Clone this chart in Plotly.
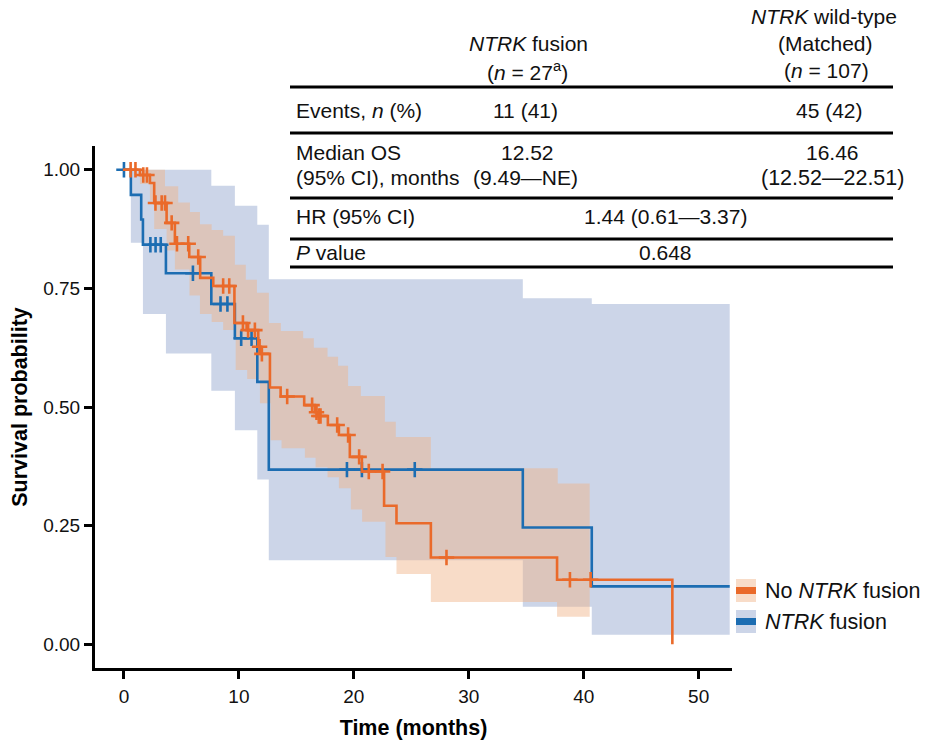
import numpy as np
import plotly.graph_objects as go

# ---------------- data ----------------
# NTRK fusion (blue)
fus_t = [0, 0.6, 1.5, 1.65, 3.65, 7.6, 9.65, 11.6, 12.6, 34.7, 40.7]
fus_s = [1.0, 0.947, 0.895, 0.842, 0.782, 0.717, 0.645, 0.553, 0.368, 0.246, 0.122]
fus_lo = [1.0, 0.846, 0.846, 0.696, 0.613, 0.534, 0.451, 0.347, 0.177, 0.079, 0.020]
fus_hi = [1.0, 1.0, 1.0, 1.0, 1.0, 0.966, 0.924, 0.884, 0.769, 0.729, 0.717]
fus_end = 52.7
fus_cens = [0.0, 2.3, 2.75, 3.2, 6.0, 8.4, 9.0, 10.2, 11.1, 19.4, 20.7, 25.3]

# No NTRK fusion (orange)
no_t = [0, 1.39, 2.26, 2.63, 3.71, 4.43, 5.68, 6.63, 7.77, 9.61, 10.67, 11.68, 11.91,
        12.70, 13.63, 15.68, 16.61, 16.87, 17.74, 18.70, 19.65, 20.70, 22.63, 23.71,
        26.70, 37.68, 47.71]
no_s = [1.0, 0.989, 0.972, 0.930, 0.888, 0.844, 0.816, 0.772, 0.755, 0.677, 0.662, 0.627,
        0.612, 0.541, 0.522, 0.504, 0.489, 0.481, 0.462, 0.441, 0.395, 0.364, 0.292,
        0.255, 0.183, 0.136, 0.0]
no_cens = [0.58, 1.0, 1.68, 2.0, 2.74, 3.28, 3.57, 4.15, 4.61, 5.59, 6.46, 8.63, 9.16,
           10.35, 10.8, 11.39, 11.8, 12.0, 14.2, 16.37, 16.75, 16.95, 17.1, 18.55, 19.5,
           20.46, 21.3, 22.5, 28.06, 38.8, 40.6]
no_hi_t = [0, 3.57, 4.72, 5.74, 6.61, 7.63, 8.63, 9.65, 10.6, 11.57, 12.61, 13.65, 15.59,
           16.52, 17.71, 18.63, 19.5, 20.61, 22.7, 23.65, 26.7, 37.74]
no_hi = [1.0, 0.965, 0.931, 0.911, 0.885, 0.873, 0.861, 0.800, 0.768, 0.741, 0.677, 0.660,
         0.645, 0.625, 0.606, 0.587, 0.544, 0.523, 0.469, 0.437, 0.371, 0.339]
no_lo_t = [0, 1.39, 2.26, 2.63, 3.71, 4.43, 5.70, 6.61, 7.63, 8.63, 9.72, 10.72, 11.83,
           12.76, 13.71, 15.74, 16.67, 17.71, 18.70, 19.74, 20.72, 22.75, 23.71, 26.70, 37.68]
no_lo = [1.0, 0.97, 0.935, 0.875, 0.83, 0.79, 0.735, 0.696, 0.679, 0.662, 0.578, 0.559,
         0.508, 0.430, 0.413, 0.393, 0.373, 0.352, 0.329, 0.284, 0.258, 0.184, 0.148,
         0.089, 0.058]
no_band_end = 40.52

x_ticks = [0, 10, 20, 30, 40, 50]
y_ticks = [0, 0.25, 0.5, 0.75, 1.0]
y_tick_labels = ["0.00", "0.25", "0.50", "0.75", "1.00"]

legend_labels = ["No <i>NTRK</i> fusion", "<i>NTRK</i> fusion"]

table_col1_head = ["<i>NTRK</i> fusion", "(<i>n</i> = 27<sup>a</sup>)"]
table_col2_head = ["<i>NTRK</i> wild-type", "(Matched)", "(<i>n</i> = 107)"]
table_row_labels = ["Events, <i>n</i> (%)", "Median OS", "(95% CI), months",
                    "HR (95% CI)", "<i>P</i> value"]
table_col1_vals = ["11 (41)", "12.52", "(9.49\u2014NE)"]
table_col2_vals = ["45 (42)", "16.46", "(12.52\u201422.51)"]
table_shared_vals = ["1.44 (0.61\u20143.37)", "0.648"]

# ---------------- styling ----------------
ORANGE = "#EA6A2A"
BLUE = "#1C6DB2"
BLUE_BAND = "#CCD5E8"
ORANGE_BAND = "rgba(239,177,133,0.45)"
FONT = "Liberation Sans, Arial, sans-serif"
TXT = 21

W, H = 932, 740
ML, MR, MT, MB = 95, 200, 146, 72
PW, PH = W - ML - MR, H - MT - MB


def px(xp):
    return (xp - ML) / PW


def py(yp):
    return (H - MB - yp) / PH


def step_xy(t, v, end):
    xs, ys = [], []
    for i in range(len(t)):
        x1 = t[i + 1] if i + 1 < len(t) else end
        xs += [t[i], x1]
        ys += [v[i], v[i]]
    return xs, ys


def band_polygon(t_hi, hi, t_lo, lo, end):
    xu, yu = step_xy(t_hi, hi, end)
    xl, yl = step_xy(t_lo, lo, end)
    return xu + xl[::-1], yu + yl[::-1]


def surv_at(t, s, x):
    idx = np.searchsorted(np.array(t), np.array(x), side="right") - 1
    return list(np.array(s)[idx])


fig = go.Figure()

# bands
bx, by = band_polygon(fus_t, fus_hi, fus_t, fus_lo, fus_end)
fig.add_trace(go.Scatter(x=bx, y=by, fill="toself", fillcolor=BLUE_BAND,
                         line=dict(width=0), mode="lines", hoverinfo="skip",
                         showlegend=False))
ox, oy = band_polygon(no_hi_t, no_hi, no_lo_t, no_lo, no_band_end)
fig.add_trace(go.Scatter(x=ox, y=oy, fill="toself", fillcolor=ORANGE_BAND,
                         line=dict(width=0), mode="lines", hoverinfo="skip",
                         showlegend=False))

# blue curve
fig.add_trace(go.Scatter(x=fus_t + [fus_end], y=fus_s + [fus_s[-1]], mode="lines",
                         line=dict(color=BLUE, width=2.6, shape="hv"),
                         showlegend=False))
fig.add_trace(go.Scatter(x=fus_cens, y=surv_at(fus_t, fus_s, fus_cens), mode="markers",
                         marker=dict(symbol="cross-thin", size=11, color=BLUE,
                                     line=dict(color=BLUE, width=2.6)),
                         showlegend=False))
# orange curve
fig.add_trace(go.Scatter(x=no_t, y=no_s, mode="lines",
                         line=dict(color=ORANGE, width=2.6, shape="hv"),
                         showlegend=False))
fig.add_trace(go.Scatter(x=no_cens, y=surv_at(no_t, no_s, no_cens), mode="markers",
                         marker=dict(symbol="cross-thin", size=11, color=ORANGE,
                                     line=dict(color=ORANGE, width=2.6)),
                         showlegend=False))

shapes = []
annotations = []

# table rules
for yy in [87, 133, 198, 239, 267]:
    shapes.append(dict(type="line", xref="paper", yref="paper", x0=px(290), x1=px(893),
                       y0=py(yy), y1=py(yy), line=dict(color="black", width=3)))


def txt(s, xp, yp, anchor="center", size=TXT):
    annotations.append(dict(text=s, xref="paper", yref="paper", x=px(xp), y=py(yp),
                            xanchor=anchor, yanchor="middle", showarrow=False,
                            font=dict(family=FONT, size=size, color="#111111")))


txt(table_col1_head[0], 528, 44)
txt(table_col1_head[1], 527, 71)
txt(table_col2_head[0], 824, 17)
txt(table_col2_head[1], 825, 44)
txt(table_col2_head[2], 826, 71)
txt(table_row_labels[0], 294, 110, "left")
txt(table_row_labels[1], 294, 152, "left")
txt(table_row_labels[2], 294, 178, "left")
txt(table_row_labels[3], 294, 216, "left")
txt(table_row_labels[4], 294, 252, "left")
txt(table_col1_vals[0], 525, 110)
txt(table_col1_vals[1], 527, 152)
txt(table_col1_vals[2], 525, 178)
txt(table_col2_vals[0], 830, 110)
txt(table_col2_vals[1], 832, 152)
txt(table_col2_vals[2], 832, 178, size=21.5)
txt(table_shared_vals[0], 665, 216)
txt(table_shared_vals[1], 665, 252)

# legend (custom keys)
for (yc, fillc, linec, lab) in [(590.5, ORANGE_BAND, ORANGE, legend_labels[0]),
                                (621.5, BLUE_BAND, BLUE, legend_labels[1])]:
    shapes.append(dict(type="rect", xref="paper", yref="paper", x0=px(736), x1=px(756),
                       y0=py(yc - 11.5), y1=py(yc + 11.5), fillcolor=fillc,
                       line=dict(width=0)))
    shapes.append(dict(type="rect", xref="paper", yref="paper", x0=px(736), x1=px(756),
                       y0=py(yc - 3.5), y1=py(yc + 3.5), fillcolor=linec,
                       line=dict(width=0)))
    txt(lab, 763, yc, "left", 21.5)

fig.update_layout(
    width=W, height=H,
    margin=dict(l=ML, r=MR, t=MT, b=MB, autoexpand=False),
    paper_bgcolor="white", plot_bgcolor="white",
    shapes=shapes, annotations=annotations,
    font=dict(family=FONT, color="#111111"),
    xaxis=dict(range=[-2.52, 52.9], tickvals=x_ticks, showgrid=False, zeroline=False,
               showline=True, linecolor="black", linewidth=3, ticks="outside",
               ticklen=8, tickwidth=2.5, tickcolor="black", automargin=False,
               ticklabelstandoff=1,
               tickfont=dict(size=19, family=FONT, color="#111111"),
               title=dict(text="<b>Time (months)</b>", standoff=16,
                          font=dict(size=21.5, family=FONT, color="black"))),
    yaxis=dict(range=[-0.05, 1.05], tickvals=y_ticks, ticktext=y_tick_labels,
               showgrid=False, zeroline=False,
               showline=True, linecolor="black", linewidth=3, ticks="outside",
               ticklen=8, tickwidth=2.5, tickcolor="black", automargin=False,
               tickfont=dict(size=19, family=FONT, color="#111111"),
               title=dict(text="<b>Survival probability</b>", standoff=10,
                          font=dict(size=21.5, family=FONT, color="black"))),
)

fig.write_html("out.html", config={"displayModeBar": False},
               post_script="document.body.style.margin='0';")
